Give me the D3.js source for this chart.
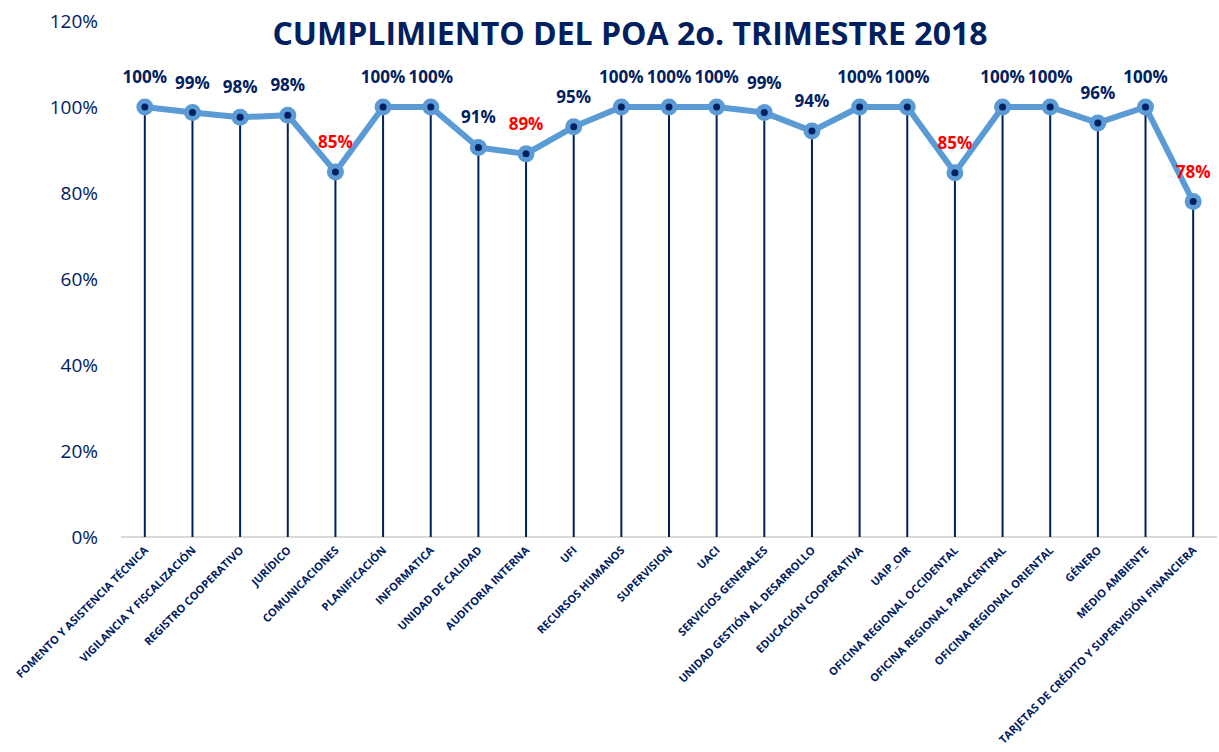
<!DOCTYPE html>
<meta charset="utf-8">
<style>
body { margin: 0; background: #fff; }
text { font-family: "Open Sans", sans-serif; }
</style>
<body>
<script src="https://cdn.jsdelivr.net/npm/d3@7"></script>
<script>

// categories and values (percent)
var categories = [
  "FOMENTO Y ASISTENCIA TÉCNICA", "VIGILANCIA Y FISCALIZACIÓN", "REGISTRO COOPERATIVO",
  "JURÍDICO", "COMUNICACIONES", "PLANIFICACIÓN", "INFORMATICA", "UNIDAD DE CALIDAD",
  "AUDITORIA INTERNA", "UFI", "RECURSOS HUMANOS", "SUPERVISION", "UACI",
  "SERVICIOS GENERALES", "UNIDAD GESTIÓN AL DESARROLLO", "EDUCACIÓN COOPERATIVA",
  "UAIP_OIR", "OFICINA REGIONAL OCCIDENTAL", "OFICINA REGIONAL PARACENTRAL",
  "OFICINA REGIONAL ORIENTAL", "GÉNERO", "MEDIO AMBIENTE",
  "TARJETAS DE CRÉDITO Y SUPERVISIÓN FINANCIERA"
];
var values = [100, 98.7, 97.6, 98.1, 84.9, 100, 100, 90.6, 89.1, 95.4, 100, 100, 100,
  98.7, 94.4, 100, 100, 84.7, 100, 100, 96.3, 100, 78.0];
var yTicks = [0, 20, 40, 60, 80, 100, 120];

var navy = "#002060", blue = "#5b9bd5";
var W = 1219, H = 752;
var margin = {top: 21, left: 121, right: 2, bottom: 215};
var width = W - margin.left - margin.right,
    height = H - margin.top - margin.bottom;

var svg = d3.select("body").append("svg")
    .attr("width", W).attr("height", H);

svg.append("text")
    .attr("x", 630).attr("y", 45)
    .attr("text-anchor", "middle")
    .attr("fill", navy)
    .style("font-weight", "bold")
    .style("font-size", "32px")
    .text("CUMPLIMIENTO DEL POA 2o. TRIMESTRE 2018");

var g = svg.append("g")
    .attr("transform", "translate(" + margin.left + "," + margin.top + ")");

var x = d3.scaleBand().domain(categories).range([0, width]);
var y = d3.scaleLinear().domain([0, 120]).range([height, 0]);
var cx = function(d) { return x(d) + x.bandwidth() / 2; };

// y axis (labels only)
var yAxis = g.append("g")
    .call(d3.axisLeft(y).tickValues(yTicks).tickFormat(function(d) { return d + "%"; }).tickSize(0).tickPadding(23));
yAxis.select(".domain").remove();
yAxis.selectAll("text")
    .attr("fill", navy)
    .style("font-size", "19px")
    .style("font-family", "'Open Sans', sans-serif");

// x axis line
g.append("line")
    .attr("x1", 0).attr("x2", width)
    .attr("y1", y(0)).attr("y2", y(0))
    .attr("stroke", "#d9d9d9").attr("stroke-width", 2);

var pts = categories.map(function(c, i) { return {c: c, v: values[i]}; });

// drop lines
g.selectAll(".drop").data(pts).enter().append("line")
    .attr("x1", function(d) { return cx(d.c); })
    .attr("x2", function(d) { return cx(d.c); })
    .attr("y1", function(d) { return y(d.v); })
    .attr("y2", y(0))
    .attr("stroke", navy).attr("stroke-width", 2);

// line
g.append("path")
    .datum(pts)
    .attr("fill", "none")
    .attr("stroke", blue)
    .attr("stroke-width", 6)
    .attr("stroke-linejoin", "round")
    .attr("d", d3.line().x(function(d) { return cx(d.c); }).y(function(d) { return y(d.v); }));

g.selectAll(".mk").data(pts).enter().append("circle")
    .attr("cx", function(d) { return cx(d.c); })
    .attr("cy", function(d) { return y(d.v); })
    .attr("r", 8.5).attr("fill", blue);

g.selectAll(".dot").data(pts).enter().append("circle")
    .attr("cx", function(d) { return cx(d.c); })
    .attr("cy", function(d) { return y(d.v); })
    .attr("r", 3.5).attr("fill", navy);

// data labels
g.selectAll(".lbl").data(pts).enter().append("text")
    .attr("x", function(d) { return cx(d.c); })
    .attr("y", function(d) { return y(d.v) - 24; })
    .attr("text-anchor", "middle")
    .attr("fill", function(d) { return d.v < 90 ? "#ff0000" : navy; })
    .style("font-weight", "bold")
    .style("font-size", "17px")
    .text(function(d) { return Math.round(d.v) + "%"; });

// category labels
g.selectAll(".cat").data(categories).enter().append("text")
    .attr("transform", function(d) { return "translate(" + (cx(d) + 4) + "," + (y(0) + 14) + ") rotate(-45)"; })
    .attr("text-anchor", "end")
    .attr("fill", navy)
    .style("font-weight", "bold")
    .style("font-size", "11px")
    .text(function(d) { return d; });

</script>
</body>
